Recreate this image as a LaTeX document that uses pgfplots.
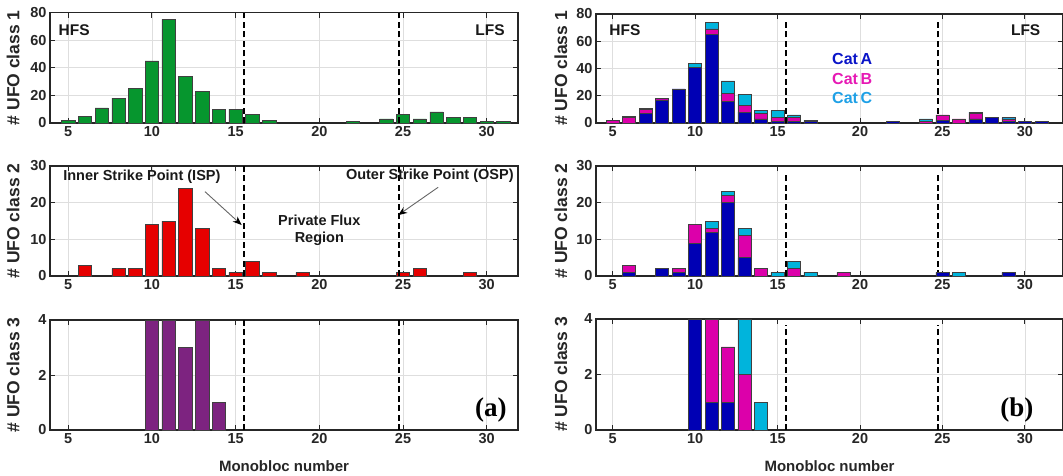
\documentclass[border=0pt]{standalone}
\usepackage{pgfplots}
\pgfplotsset{compat=1.18}
\usepackage{pgfplotstable}
\usepackage{fontspec}
\setmainfont{Liberation Sans}
\newfontfamily\timesfont{Liberation Serif}
\usetikzlibrary{arrows.meta}

\definecolor{cgreen}{HTML}{06962E}
\definecolor{cred}{HTML}{E60000}
\definecolor{cpurple}{HTML}{7D2380}
\definecolor{cA}{HTML}{0000B4}
\definecolor{cB}{HTML}{DC00AA}
\definecolor{cC}{HTML}{00B4DC}
\definecolor{tA}{HTML}{0A14C8}
\definecolor{tB}{HTML}{E619B4}
\definecolor{tC}{HTML}{1EA0E6}
\definecolor{axc}{HTML}{262626}

\pgfplotstableread{
x A B C
5 0 2 0
6 0 4 1
7 7 3 1
8 17 1 0
9 25 0 0
10 41 0 3
11 65 4 5
12 16 6 9
13 8 5 8
14 3 4 2
15 1 3 5
16 1 3 2
17 1 0 1
22 1 0 0
24 0 1 2
25 2 4 0
26 0 3 0
27 3 4 1
28 4 0 0
29 1 2 1
30 1 0 0
31 1 0 0
}\rone

\pgfplotstableread{
x A B C
6 1 2 0
8 2 0 0
9 1 1 0
10 9 5 0
11 12 1 2
12 20 2 1
13 5 6 2
14 0 2 0
15 0 0 1
16 0 2 2
17 0 0 1
19 0 1 0
25 1 0 0
26 0 0 1
29 1 0 0
}\rtwo

\pgfplotstableread{
x A B C
10 4 0 0
11 1 3 0
12 1 2 0
13 0 2 2
14 0 0 1
}\rthree

\tikzset{lab/.style={font=\bfseries\fontsize{15.5}{18}\selectfont, text=black!90}}

\pgfplotsset{
 base/.style={
  scale only axis,
  xtick={5,10,...,30},
  grid=major, grid style={draw=black!13, line width=0.7pt},
  axis line style={draw=axc, line width=1.1pt},
  major tick style={draw=axc, line width=1pt},
  major tick length=5pt,
  tick label style={font=\bfseries\fontsize{14.5}{16}\selectfont, text=axc},
  /pgf/number format/assume math mode=true,
  xlabel style={font=\bfseries\fontsize{15}{17}\selectfont, text=axc, at={(axis description cs:0.5,-0.33)}, anchor=center},
  bar width=0.8,
  ymin=0,
 },
 leftax/.style={base, width=468pt, xmin=3.91, xmax=31.87,
  ylabel style={font=\bfseries\fontsize{17.5}{19}\selectfont, text=axc, at={(axis description cs:-0.079,0.5)}, anchor=center}},
 rightax/.style={base, width=467pt, xmin=3.99, xmax=32.31,
  ylabel style={font=\bfseries\fontsize{17.5}{19}\selectfont, text=axc, at={(axis description cs:-0.075,0.5)}, anchor=center}},
 barsty/.style={draw=black!75, line width=0.5pt},
 dline/.style={sharp plot, stack plots=false, no marks, draw=black, line width=1.6pt, dash pattern=on 6pt off 3.5pt},
}

\begin{document}
\begin{tikzpicture}
\useasboundingbox (0pt,0pt) rectangle (1063pt,475pt);

% ---------------- left column ----------------
\begin{axis}[leftax, at={(50pt,352pt)}, anchor=south west, height=110.5pt,
  ymax=80, ytick={0,20,40,60,80}, ylabel={\# UFO class 1}]
\addplot[ybar, barsty, fill=cgreen] coordinates {
(5,2)(6,5)(7,11)(8,18)(9,25)(10,45)(11,75)(12,34)(13,23)(14,10)(15,10)(16,6)(17,2)(22,1)(24,3)(25,6)(26,3)(27,8)(28,4)(29,4)(30,1)(31,1)};
\addplot[dline] coordinates {(15.5,0)(15.5,80)};
\addplot[dline] coordinates {(24.75,0)(24.75,80)};
\node[lab, anchor=west] at (rel axis cs:0.011,0.842) {HFS};
\node[lab, anchor=east] at (rel axis cs:0.979,0.842) {LFS};
\end{axis}

\begin{axis}[leftax, at={(50pt,199pt)}, anchor=south west, height=110pt,
  ymax=30, ytick={0,10,20,30}, ylabel={\# UFO class 2}]
\addplot[ybar, barsty, fill=cred] coordinates {
(6,3)(8,2)(9,2)(10,14)(11,15)(12,24)(13,13)(14,2)(15,1)(16,4)(17,1)(19,1)(25,1)(26,2)(29,1)};
\addplot[dline] coordinates {(15.5,0)(15.5,30)};
\addplot[dline] coordinates {(24.75,0)(24.75,30)};
\node[lab, font=\bfseries\fontsize{14.5}{17}\selectfont] at (axis cs:9.4,27.1) {Inner Strike Point (ISP)};
\node[lab, font=\bfseries\fontsize{14.5}{17}\selectfont] at (axis cs:26.6,27.4) {Outer Strike Point (OSP)};
\node[lab, font=\bfseries\fontsize{14.5}{17.5}\selectfont, align=center] at (axis cs:20,12.5) {Private Flux\\Region};
\draw[draw=black!60, line width=0.9pt, -{Stealth[length=9pt,width=7pt,black]}] (axis cs:13.17,23.0) -- (axis cs:15.36,13.9);
\draw[draw=black!60, line width=0.9pt, -{Stealth[length=9pt,width=7pt,black]}] (axis cs:27.1,24.2) -- (axis cs:24.71,16.6);
\end{axis}

\begin{axis}[leftax, at={(50pt,45pt)}, anchor=south west, height=110pt,
  ymax=4, ytick={0,2,4}, ylabel={\# UFO class 3}, xlabel={Monobloc number}]
\addplot[ybar, barsty, fill=cpurple] coordinates {(10,4)(11,4)(12,3)(13,4)(14,1)};
\addplot[dline] coordinates {(15.5,0)(15.5,4)};
\addplot[dline] coordinates {(24.75,0)(24.75,4)};
\node[anchor=east, font=\timesfont\bfseries\fontsize{27}{30}\selectfont] at (rel axis cs:0.983,0.18) {(a)};
\end{axis}

% ---------------- right column ----------------
\begin{axis}[rightax, ybar stacked, at={(596pt,352pt)}, anchor=south west, height=109pt,
  ymax=80, ytick={0,20,40,60,80}, ylabel={\# UFO class 1}]
\addplot[barsty, fill=cA] table[x=x, y=A] {\rone};
\addplot[barsty, fill=cB] table[x=x, y=B] {\rone};
\addplot[barsty, fill=cC] table[x=x, y=C] {\rone};
\addplot[dline] coordinates {(15.5,0)(15.5,76)};
\addplot[dline] coordinates {(24.72,0)(24.72,76)};
\node[lab, anchor=west] at (rel axis cs:0.021,0.853) {HFS};
\node[lab, anchor=east] at (rel axis cs:0.959,0.853) {LFS};
\node[anchor=west, font=\bfseries\fontsize{16}{18}\selectfont, text=tA] at (axis cs:18.1,47) {Cat\,A};
\node[anchor=west, font=\bfseries\fontsize{16}{18}\selectfont, text=tB] at (axis cs:18.1,32.3) {Cat\,B};
\node[anchor=west, font=\bfseries\fontsize{16}{18}\selectfont, text=tC] at (axis cs:18.1,18.3) {Cat\,C};
\end{axis}

\begin{axis}[rightax, ybar stacked, at={(596pt,199pt)}, anchor=south west, height=110pt,
  ymax=30, ytick={0,10,20,30}, ylabel={\# UFO class 2}]
\addplot[barsty, fill=cA] table[x=x, y=A] {\rtwo};
\addplot[barsty, fill=cB] table[x=x, y=B] {\rtwo};
\addplot[barsty, fill=cC] table[x=x, y=C] {\rtwo};
\addplot[dline] coordinates {(15.5,0)(15.5,28.5)};
\addplot[dline] coordinates {(24.72,0)(24.72,28.5)};
\end{axis}

\begin{axis}[rightax, ybar stacked, at={(596pt,45pt)}, anchor=south west, height=111pt,
  ymax=4, ytick={0,2,4}, ylabel={\# UFO class 3}, xlabel={Monobloc number}]
\addplot[barsty, fill=cA] table[x=x, y=A] {\rthree};
\addplot[barsty, fill=cB] table[x=x, y=B] {\rthree};
\addplot[barsty, fill=cC] table[x=x, y=C] {\rthree};
\addplot[dline] coordinates {(15.5,0)(15.5,3.8)};
\addplot[dline] coordinates {(24.72,0)(24.72,3.8)};
\node[anchor=east, font=\timesfont\bfseries\fontsize{27}{30}\selectfont] at (rel axis cs:0.944,0.18) {(b)};
\end{axis}
\end{tikzpicture}
\end{document}
